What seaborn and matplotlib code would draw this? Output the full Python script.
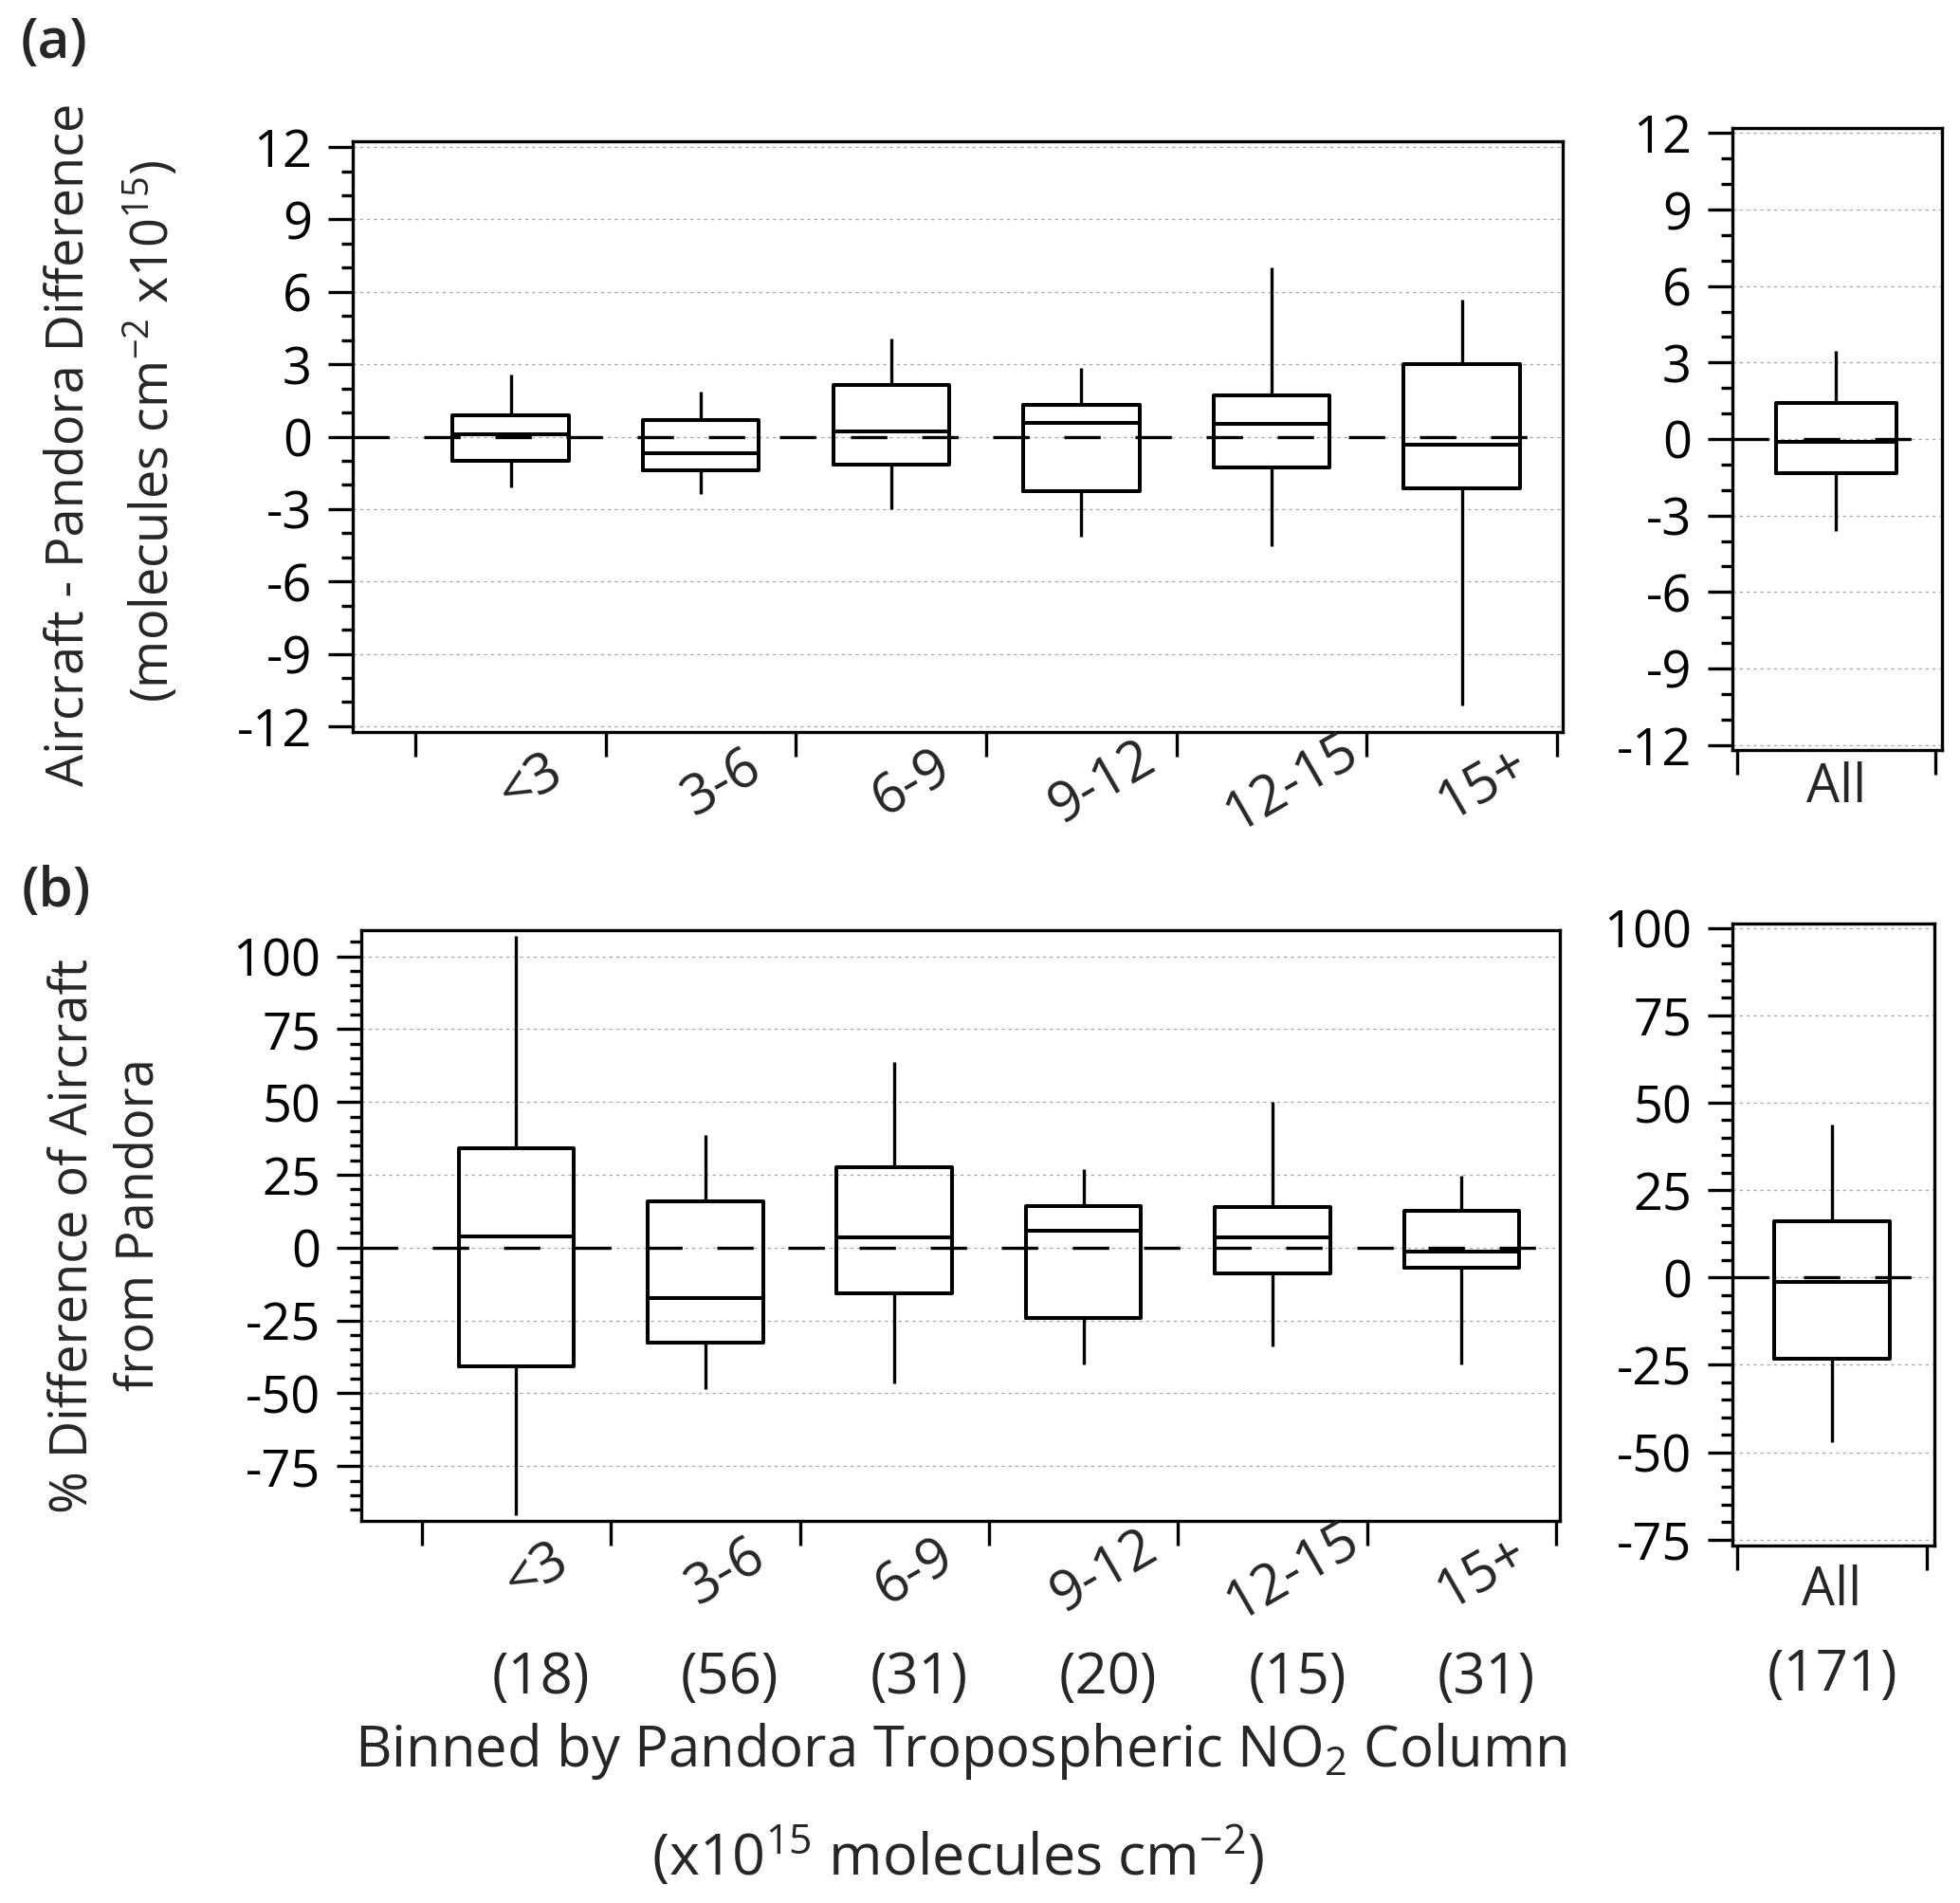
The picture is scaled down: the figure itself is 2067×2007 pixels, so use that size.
import numpy as np
import pandas as pd
import matplotlib
matplotlib.use('Agg')
import matplotlib.pyplot as plt
import seaborn as sns

# bins of Pandora tropospheric NO2 column (x1e15 molecules cm-2)
bins = ['<3', '3-6', '6-9', '9-12', '12-15', '15+']
counts = [18, 56, 31, 20, 15, 31]
all_label = ['All']
all_count = [171]

# (a) aircraft - pandora difference: whisker low, Q1, median, Q3, whisker high
diff_lo = [-2.10, -2.39, -3.00, -4.13, -4.53, -11.14]
diff_q1 = [-0.99, -1.40, -1.17, -2.25, -1.26, -2.16]
diff_med = [0.11, -0.70, 0.23, 0.56, 0.54, -0.32]
diff_q3 = [0.90, 0.70, 2.14, 1.31, 1.71, 3.02]
diff_hi = [2.59, 1.85, 4.08, 2.84, 7.01, 5.66]
diff_all = [-3.62, -1.34, -0.11, 1.40, 3.46]

# (b) percent difference of aircraft from pandora
pct_lo = [-91.9, -48.6, -46.7, -40.2, -34.0, -40.2]
pct_q1 = [-40.7, -32.6, -15.6, -24.3, -9.0, -6.9]
pct_med = [3.9, -17.3, 3.6, 5.8, 3.6, -1.4]
pct_q3 = [34.1, 15.9, 27.7, 14.3, 14.0, 12.5]
pct_hi = [107.0, 38.6, 63.7, 26.9, 50.0, 24.6]
pct_all = [-47.0, -23.2, -1.3, 16.1, 43.9]

diff_ticks = [-12, -9, -6, -3, 0, 3, 6, 9, 12]
pct_ticks = [-75, -50, -25, 0, 25, 50, 75, 100]

sns.set_theme(style='white')
plt.rcParams['font.family'] = ['Open Sans', 'DejaVu Sans']
plt.rcParams['font.weight'] = 'medium'
plt.rcParams['mathtext.fontset'] = 'custom'
plt.rcParams['mathtext.rm'] = 'Open Sans:medium'
plt.rcParams['mathtext.it'] = 'Open Sans:italic'
plt.rcParams['mathtext.bf'] = 'Open Sans:bold'
plt.rcParams['axes.unicode_minus'] = False
plt.rcParams['xtick.direction'] = 'out'
plt.rcParams['ytick.direction'] = 'out'
plt.rcParams['xtick.bottom'] = True
plt.rcParams['ytick.left'] = True

FS_TICK = 39
FS_LAB = 39
FS_BIN = 42
FS_BIG = 43
LW_BOX = 2.9
LW_AX = 2.4
W, H = 2067, 2007


def long_frame(labels, stats):
    # each box gets its five summary numbers, so seaborn's quartiles/min/max come back exactly
    rows = []
    for i, lab in enumerate(labels):
        for s in stats:
            rows.append((lab, s[i]))
    return pd.DataFrame(rows, columns=['bin', 'value'])


def draw_boxes(ax, df, order):
    sns.boxplot(data=df, x='bin', y='value', order=order, ax=ax, color='black',
                fill=False, saturation=1, width=0.61, whis=(0, 100), showcaps=False,
                linewidth=LW_BOX, whiskerprops=dict(linewidth=LW_AX), zorder=3)


def style_axes(ax, ylim, major, minor, xlim, edges):
    ax.set_ylim(*ylim)
    ax.set_xlim(*xlim)
    ax.set_yticks(major)
    ax.set_yticklabels([str(t) for t in major])
    ax.set_yticks(minor, minor=True)
    ax.set_xticks(edges)
    ax.set_xticklabels([])
    ax.set_xticks([], minor=True)
    ax.tick_params(axis='y', which='major', length=19, width=LW_AX, pad=12,
                   labelsize=FS_TICK, color='black', labelcolor='black')
    ax.tick_params(axis='y', which='minor', length=9, width=LW_AX, color='black')
    ax.tick_params(axis='x', which='major', length=19, width=LW_AX, color='black')
    ax.set_axisbelow(True)
    ax.yaxis.grid(True, which='major', color='#a8a8a8',
                  linestyle=(0, (2.5, 3.0)), linewidth=0.95)
    ax.xaxis.grid(False)
    for sp in ax.spines.values():
        sp.set_visible(True)
        sp.set_linewidth(LW_AX)
        sp.set_color('black')
    ax.set_xlabel('')
    ax.set_ylabel('')
    # long-dash zero reference
    ax.axhline(0, color='black', linewidth=LW_AX, dashes=(11.5, 11.0), zorder=2)


fig = plt.figure(figsize=(W / 100, H / 100), dpi=100)
ax_a = fig.add_axes([372 / W, 1 - 772 / H, 1276 / W, 623 / H])
ax_a2 = fig.add_axes([1827 / W, 1 - 791 / H, 221 / W, 656 / H])
ax_b = fig.add_axes([381 / W, 1 - 1604 / H, 1264 / W, 623 / H])
ax_b2 = fig.add_axes([1827 / W, 1 - 1630 / H, 213 / W, 656 / H])

n = len(bins)
edges = np.arange(n + 1) - 0.5

draw_boxes(ax_a, long_frame(bins, [diff_lo, diff_q1, diff_med, diff_q3, diff_hi]), bins)
draw_boxes(ax_a2, long_frame(all_label, [[v] for v in diff_all]), all_label)
draw_boxes(ax_b, long_frame(bins, [pct_lo, pct_q1, pct_med, pct_q3, pct_hi]), bins)
draw_boxes(ax_b2, long_frame(all_label, [[v] for v in pct_all]), all_label)

style_axes(ax_a, (-12.24, 12.24), diff_ticks, np.arange(-12, 13, 1),
           (-0.83, n - 0.47), edges)
style_axes(ax_a2, (-12.2, 12.2), diff_ticks, np.arange(-12, 13, 1),
           (-0.525, 0.535), [-0.5, 0.5])
style_axes(ax_b, (-93.8, 109), pct_ticks, np.arange(-90, 110, 5),
           (-0.82, n - 0.48), edges)
style_axes(ax_b2, (-76.7, 101.3), pct_ticks, np.arange(-75, 105, 5),
           (-0.525, 0.54), [-0.5, 0.5])

# rotated bin labels between the edge ticks
for ax in (ax_a, ax_b):
    tr = ax.get_xaxis_transform()
    for i, lab in enumerate(bins):
        ax.text(i + 0.11, -0.088, lab, transform=tr, rotation=30,
                ha='center', va='center', fontsize=FS_BIN)

ax_a2.text(0, -0.061, all_label[0], transform=ax_a2.get_xaxis_transform(),
           ha='center', va='center', fontsize=40)
ax_b2.text(0, -0.074, all_label[0], transform=ax_b2.get_xaxis_transform(),
           ha='center', va='center', fontsize=40)

# sample counts under panel (b)
tr = ax_b.get_xaxis_transform()
for i, c in enumerate(counts):
    ax_b.text(i + 0.13, -0.266, f'({c})', transform=tr, ha='center',
              va='center', fontsize=FS_BIG)
ax_b2.text(0, -0.209, f'({all_count[0]})', transform=ax_b2.get_xaxis_transform(),
           ha='center', va='center', fontsize=FS_BIG)

# panel letters and axis titles
fig.text(57 / W, 1 - 46 / H, '(a)', ha='center', va='center', fontsize=42,
         fontweight='semibold')
fig.text(59 / W, 1 - 941 / H, '(b)', ha='center', va='center', fontsize=42,
         fontweight='semibold')

fig.text(73 / W, 1 - 469 / H, 'Aircraft - Pandora Difference', rotation=90,
         ha='center', va='center', fontsize=FS_LAB)
fig.text(160 / W, 1 - 455 / H, r'(molecules cm$^{-2}$ x10$^{15}$)', rotation=90,
         ha='center', va='center', fontsize=FS_LAB)
fig.text(77 / W, 1 - 1303 / H, '% Difference of Aircraft', rotation=90,
         ha='center', va='center', fontsize=FS_LAB)
fig.text(147 / W, 1 - 1292 / H, 'from Pandora', rotation=90,
         ha='center', va='center', fontsize=FS_LAB)

fig.text(1013 / W, 1 - 1863 / H, r'Binned by Pandora Tropospheric NO$_2$ Column',
         ha='center', va='baseline', fontsize=FS_BIG)
fig.text(1010 / W, 1 - 1978 / H, r'(x10$^{15}$ molecules cm$^{-2}$)',
         ha='center', va='baseline', fontsize=44)

fig.savefig('out.png', dpi=100, facecolor='white')
